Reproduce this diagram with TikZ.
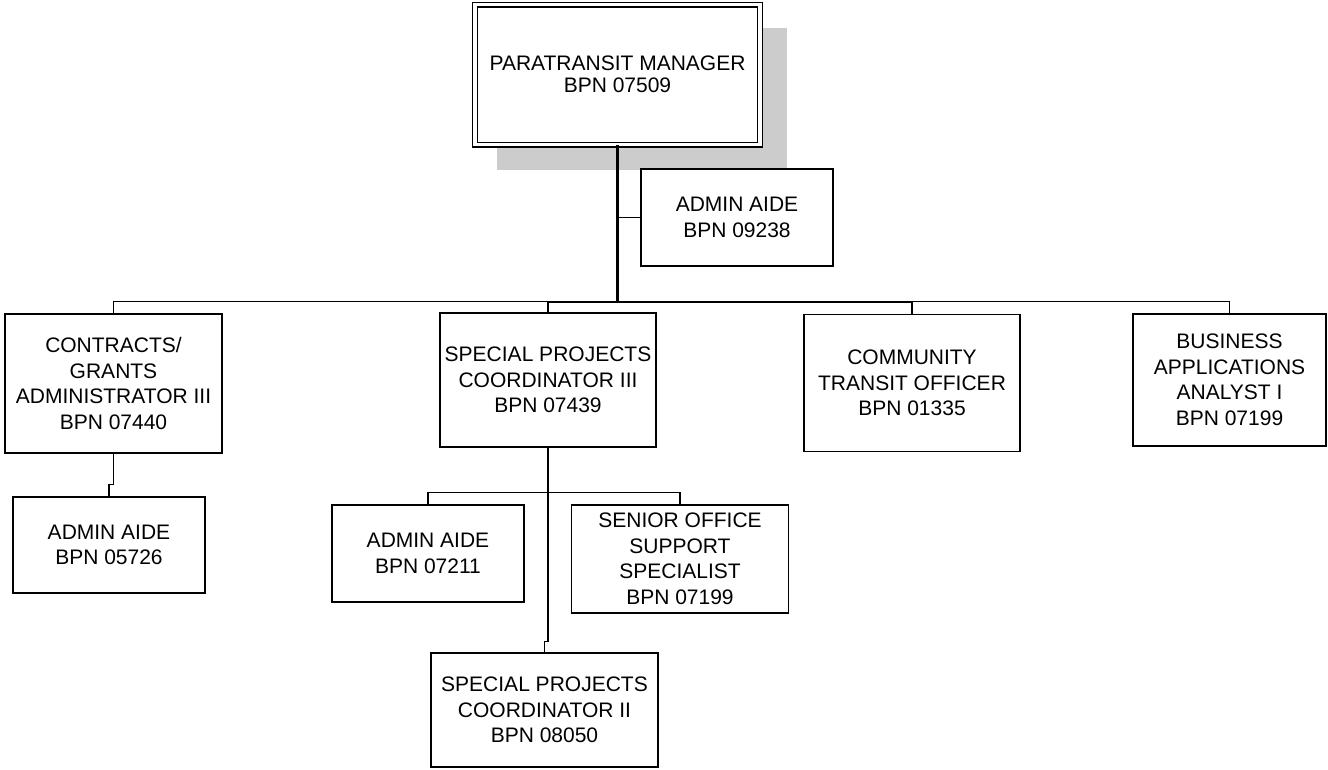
\documentclass[tikz,border=0pt]{standalone}
\usepackage{fontspec}
\setmainfont{Liberation Sans}
\usetikzlibrary{shadows}

\begin{document}
\begin{tikzpicture}[x=1pt, y=-1pt,
    box/.style={draw, rectangle, fill=white, align=center, inner sep=0pt, line width=1.5pt, font=\fontsize{21}{25.5}\selectfont},
    link/.style={line width=1.3pt},
    trunk/.style={line width=2.6pt}]
    \useasboundingbox (0,0) rectangle (1328,769);

    \node[box, double, double distance=3.2pt, line width=1.4pt, minimum width=285pt, minimum height=140pt, font=\fontsize{21}{22.3}\selectfont,
          drop shadow={shadow xshift=24pt, shadow yshift=-24pt, shadow scale=1.02, fill=black!20, opacity=1}] (manager) at (617.5, 74.5) {PARATRANSIT MANAGER\\BPN 07509};

    \node[box, minimum width=192pt, minimum height=97pt] (aide top) at (737, 217.5) {ADMIN AIDE\\BPN 09238};

    \node[box, minimum width=217pt, minimum height=139pt] (contracts) at (113.5, 383.5) {CONTRACTS/\\GRANTS\\ADMINISTRATOR III\\BPN 07440};
    \node[box, minimum width=216pt, minimum height=134pt] (projects 3) at (548, 380) {SPECIAL PROJECTS\\COORDINATOR III\\BPN 07439};
    \node[box, minimum width=216pt, minimum height=137pt] (transit) at (912, 383) {COMMUNITY\\TRANSIT OFFICER\\BPN 01335};
    \node[box, minimum width=193pt, minimum height=132pt] (analyst) at (1229.5, 380) {BUSINESS\\APPLICATIONS\\ANALYST I\\BPN 07199};

    \node[box, minimum width=192pt, minimum height=96pt] (aide left) at (109, 545) {ADMIN AIDE\\BPN 05726};
    \node[box, minimum width=192pt, minimum height=97pt] (aide mid) at (428, 553.5) {ADMIN AIDE\\BPN 07211};
    \node[box, minimum width=217pt, minimum height=108pt] (office) at (680, 559) {SENIOR OFFICE\\SUPPORT\\SPECIALIST\\BPN 07199};
    \node[box, minimum width=227pt, minimum height=114pt] (projects 2) at (544.5, 710) {SPECIAL PROJECTS\\COORDINATOR II\\BPN 08050};

    % trunk and main bar
    \coordinate (hub) at (617.5, 301.5);
    \draw[trunk] (manager.south) -- (hub);
    \draw[link] (aide top.west) -- (aide top.west -| hub);
    \draw[link] (hub) -| (contracts.north);
    \draw[link] (hub) -| (projects 3.north);
    \draw[link] (hub) -| (transit.north);
    \draw[link] (hub) -| (analyst.north);
    \draw[line width=2pt] (projects 3.north |- hub) -- (transit.north |- hub);

    % lower levels
    \draw[link] (contracts.south) -- ++(0, 31) -| (aide left.north);
    \draw[link] (projects 3.south) -- ++(0, 45) coordinate (split);
    \draw[link] (split) -| (aide mid.north);
    \draw[link] (split) -| (office.north);
    \draw[link] (split) -- ++(0, 149) -| (projects 2.north);
\end{tikzpicture}
\end{document}
